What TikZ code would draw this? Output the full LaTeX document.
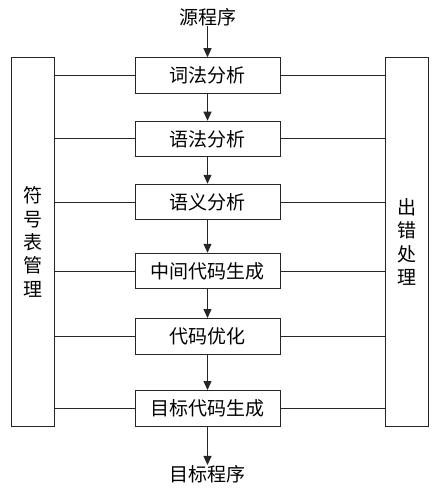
\documentclass[tikz,border=0pt]{standalone}
\usepackage{fontspec}
\setmainfont{Noto Sans CJK SC}
\usetikzlibrary{arrows.meta}
\begin{document}
\begin{tikzpicture}[x=1pt,y=-1pt,
  line/.style={draw=black!85,line width=1pt},
  proc/.style={line,minimum width=145pt,minimum height=35.5pt,inner sep=0pt,font=\fontsize{19}{23}\selectfont},
  side/.style={line,minimum width=43pt,minimum height=369pt,inner sep=0pt,align=center,font=\fontsize{19}{23.3}\selectfont},
  lbl/.style={inner sep=0pt,font=\fontsize{19}{23}\selectfont},
  arr/.style={line,-{Triangle[length=9pt,width=8pt]}}]
\useasboundingbox (0,0) rectangle (436,489);
\node[lbl] (src) at (207.5,17) {源程序};
\node[proc] (p1) at (207.5,75.5) {词法分析};
\node[proc] (p2) at (207.5,139) {语法分析};
\node[proc] (p3) at (207.5,202) {语义分析};
\node[proc] (p4) at (207.5,271) {中间代码生成};
\node[proc] (p5) at (207.5,336.3) {代码优化};
\node[proc] (p6) at (207.5,408.3) {目标代码生成};
\node[lbl] (dst) at (207.5,474) {目标程序};
\node[side] (sym) at (33,242) {符\\号\\表\\管\\理};
\node[side] (err) at (407,242) {出\\错\\处\\理};
\draw[arr] (src) -- (p1);
\draw[arr] (p1) -- (p2);
\draw[arr] (p2) -- (p3);
\draw[arr] (p3) -- (p4);
\draw[arr] (p4) -- (p5);
\draw[arr] (p5) -- (p6);
\draw[arr] (p6) -- (dst);
\foreach \p in {p1,p2,p3,p4,p5,p6}{
  \draw[line] (\p.west) -- (\p.west -| sym.east);
  \draw[line] (\p.east) -- (\p.east -| err.west);
}
\end{tikzpicture}
\end{document}
